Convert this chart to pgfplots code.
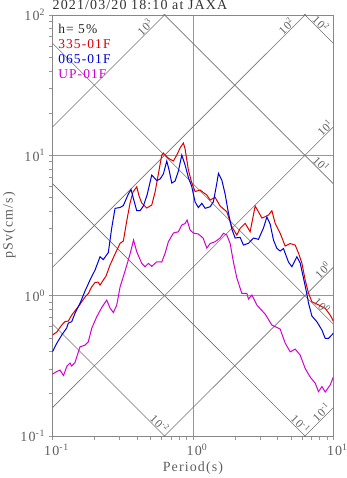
\documentclass[border=0pt]{standalone}
\usepackage{fontspec}
\setmainfont{Liberation Serif}[LetterSpace=8]
\usepackage{pgfplots}
\pgfplotsset{compat=1.18}
\definecolor{cred}{RGB}{220,0,0}
\definecolor{cblue}{RGB}{0,0,220}
\definecolor{cmag}{RGB}{210,0,210}
\definecolor{gridc}{RGB}{150,150,150}
\definecolor{diagc}{RGB}{115,115,115}
\definecolor{txtc}{RGB}{95,95,95}

\begin{document}
\begin{tikzpicture}
\useasboundingbox (0,0) rectangle (347pt,478pt);
\begin{axis}[
  name=ax,
  at={(52.5pt,42pt)}, anchor=south west,
  scale only axis, width=280.8pt, height=421pt,
  xmode=log, ymode=log,
  xmin=0.1, xmax=10, ymin=0.1, ymax=100,
  xtick={0.1,1,10}, ytick={0.1,1,10,100},
  xticklabels={10\textsuperscript{-1},10\textsuperscript{0},10\textsuperscript{1}},
  yticklabels={10\textsuperscript{-1},10\textsuperscript{0},10\textsuperscript{1},10\textsuperscript{2}},
  minor xtick={0.2,0.3,0.4,0.5,0.6,0.7,0.8,0.9,2,3,4,5,6,7,8,9},
  minor ytick={0.2,0.3,0.4,0.5,0.6,0.7,0.8,0.9,2,3,4,5,6,7,8,9,20,30,40,50,60,70,80,90},
  tick pos=left, tick align=outside,
  major tick length=4pt, minor tick length=4pt,
  every tick/.style={gridc, line width=0.6pt},
  xmajorgrids, ymajorgrids,
  major grid style={gridc, line width=0.8pt},
  axis line style={draw=gridc!90!black, line width=0.8pt},
  tick label style={font=\fontsize{14}{16}\selectfont, text=txtc},
  xticklabel style={xshift=4pt},
  xlabel={Period(s)}, ylabel={pSv(cm/s)},
  ylabel style={yshift=-2pt},
  label style={font=\fontsize{14}{16}\selectfont, text=txtc},
]
% constant acceleration lines (slope +1)
\addplot[diagc, line width=0.6pt, forget plot] coordinates {(0.1,15.92)(1,159.2)};
\addplot[diagc, line width=0.6pt, forget plot] coordinates {(0.1,1.592)(10,159.2)};
\addplot[diagc, line width=0.6pt, forget plot] coordinates {(0.1,0.1592)(10,15.92)};
\addplot[diagc, line width=0.6pt, forget plot] coordinates {(0.1,0.01592)(10,1.592)};
\addplot[diagc, line width=0.6pt, forget plot] coordinates {(1,0.01592)(10,0.1592)};
% constant displacement lines (slope -1)
\addplot[diagc, line width=0.6pt, forget plot] coordinates {(1,628.3)(10,62.83)};
\addplot[diagc, line width=0.6pt, forget plot] coordinates {(0.1,628.3)(10,6.283)};
\addplot[diagc, line width=0.6pt, forget plot] coordinates {(0.1,62.83)(10,0.6283)};
\addplot[diagc, line width=0.6pt, forget plot] coordinates {(0.1,6.283)(10,0.06283)};
\addplot[diagc, line width=0.6pt, forget plot] coordinates {(0.1,0.6283)(1,0.06283)};

% 335-01F
\addplot[cred, line width=1pt] coordinates {
(0.1,0.524)(0.1072,0.550)(0.1163,0.617)(0.1227,0.654)(0.1296,0.659)(0.1370,0.727)(0.1446,0.780)(0.1527,0.834)(0.1614,0.905)(0.1704,0.977)(0.1799,1.035)(0.1903,1.157)(0.2009,1.240)(0.2110,1.250)(0.2181,1.190)(0.2301,1.292)(0.2405,1.379)(0.2569,1.652)(0.2789,1.980)(0.3028,2.360)(0.3196,2.450)(0.3379,3.402)(0.3567,4.571)(0.3747,5.477)(0.3982,5.972)(0.4136,5.128)(0.4322,4.571)(0.4692,4.211)(0.5093,4.424)(0.5378,5.477)(0.5676,7.357)(0.6001,10.05)(0.6161,10.38)(0.6689,9.522)(0.7261,9.109)(0.7679,10.05)(0.8104,11.27)(0.8555,12.24)(0.8799,11.09)(0.9288,7.857)(0.982,6.347)(1.037,5.521)(1.125,5.658)(1.256,5.213)(1.326,4.801)(1.439,5.019)(1.563,4.352)(1.744,3.963)(1.894,3.098)(2.056,2.704)(2.170,3.018)(2.356,3.277)(2.557,2.854)(2.776,4.352)(2.930,3.963)(3.099,3.573)(3.271,3.651)(3.453,3.754)(3.651,4.029)(3.855,3.277)(4.184,2.780)(4.542,2.257)(4.930,2.351)(5.352,2.294)(5.649,2.012)(5.972,1.708)(6.305,1.292)(6.657,1.043)(7.039,0.905)(7.641,0.871)(8.757,0.812)(9.506,0.727)(10,0.659)};
% 065-01F
\addplot[cblue, line width=1pt] coordinates {
(0.1,0.398)(0.1072,0.457)(0.1163,0.524)(0.1262,0.588)(0.1296,0.638)(0.1370,0.652)(0.1446,0.748)(0.157,0.882)(0.1704,1.078)(0.1850,1.292)(0.2009,1.522)(0.2181,1.894)(0.2301,1.808)(0.2498,2.029)(0.2641,3.033)(0.2789,4.191)(0.3028,4.246)(0.3196,4.388)(0.3469,5.300)(0.3627,5.705)(0.3778,4.881)(0.3982,4.029)(0.4204,4.029)(0.4437,4.352)(0.4715,5.213)(0.5093,7.237)(0.5530,6.613)(0.5836,6.778)(0.6161,7.357)(0.6516,9.109)(0.6766,7.857)(0.7073,6.347)(0.7467,6.560)(0.7883,7.729)(0.8334,10.05)(0.8799,8.530)(0.9288,6.947)(0.982,5.972)(1.037,4.648)(1.094,4.246)(1.157,4.549)(1.222,4.191)(1.326,4.302)(1.400,4.671)(1.480,6.316)(1.520,7.442)(1.607,6.668)(1.696,5.300)(1.791,3.880)(1.894,2.984)(2.000,2.574)(2.170,2.603)(2.291,2.294)(2.487,2.360)(2.700,2.574)(2.930,2.520)(3.181,3.033)(3.364,3.634)(3.550,3.239)(3.749,2.491)(3.964,2.174)(4.184,2.079)(4.417,2.166)(4.794,1.736)(5.070,1.607)(5.503,1.894)(5.808,1.708)(6.131,1.335)(6.485,1.027)(6.657,0.886)(7.039,0.716)(7.641,0.652)(8.296,0.569)(8.757,0.496)(9.244,0.496)(10,0.539)};
% UP-01F
\addplot[cmag, line width=1pt] coordinates {
(0.1,0.276)(0.1072,0.288)(0.1131,0.295)(0.1198,0.270)(0.1268,0.315)(0.1332,0.331)(0.1370,0.315)(0.1446,0.334)(0.157,0.432)(0.1704,0.444)(0.1799,0.469)(0.1903,0.585)(0.2065,0.707)(0.2242,0.823)(0.2433,0.930)(0.2569,0.816)(0.2713,0.758)(0.2868,0.857)(0.3028,1.152)(0.3286,1.497)(0.3567,1.980)(0.3778,2.491)(0.3982,2.056)(0.4322,1.699)(0.4563,1.607)(0.4817,1.699)(0.5093,1.618)(0.5530,1.744)(0.6001,1.736)(0.6335,2.002)(0.6689,2.423)(0.7261,2.794)(0.7883,2.854)(0.8334,3.186)(0.8799,3.265)(0.9092,3.458)(0.955,2.935)(1.008,2.794)(1.094,2.749)(1.182,2.574)(1.256,2.184)(1.326,2.351)(1.439,2.423)(1.563,2.574)(1.650,2.780)(1.744,2.704)(1.841,2.360)(1.944,1.736)(2.056,1.335)(2.232,1.038)(2.423,1.038)(2.487,0.946)(2.630,1.010)(2.854,0.857)(3.271,0.739)(3.651,0.617)(3.919,0.597)(4.184,0.578)(4.542,0.459)(4.930,0.398)(5.352,0.416)(5.808,0.377)(6.305,0.303)(6.845,0.263)(7.431,0.238)(7.844,0.207)(8.296,0.225)(8.757,0.206)(9.506,0.231)(10,0.263)};

% labels of the diagonal lines
\begin{scope}[every node/.style={font=\fontsize{11.5}{12}\selectfont, text=txtc, anchor=south, inner sep=0.5pt}]
\node[rotate=45] at (axis cs:0.485,77.2) {10\textsuperscript{3}};
\node[rotate=45] at (axis cs:4.913,78.2) {10\textsuperscript{2}};
\node[rotate=45] at (axis cs:9.28,14.77) {10\textsuperscript{1}};
\node[rotate=45] at (axis cs:8.93,1.421) {10\textsuperscript{0}};
\node[rotate=45] at (axis cs:8.737,0.1391) {10\textsuperscript{-1}};
\node[rotate=-45] at (axis cs:7.666,81.96) {10\textsuperscript{2}};
\node[rotate=-45] at (axis cs:7.71,8.149) {10\textsuperscript{1}};
\node[rotate=-45] at (axis cs:7.806,0.805) {10\textsuperscript{0}};
\node[rotate=-45] at (axis cs:5.482,0.1146) {10\textsuperscript{-1}};
\node[rotate=-45] at (axis cs:0.5467,0.1149) {10\textsuperscript{-2}};
\end{scope}

% damping and station names
\begin{scope}[every node/.style={font=\fontsize{13.5}{15}\selectfont, anchor=west, inner sep=0pt}]
\node[text=black!85] at (rel axis cs:0.02,0.966) {h= 5\%};
\node[text=cred] at (rel axis cs:0.02,0.931) {335-01F};
\node[text=cblue] at (rel axis cs:0.02,0.895) {065-01F};
\node[text=cmag] at (rel axis cs:0.02,0.860) {UP-01F};
\end{scope}
\end{axis}
\node[anchor=base west, inner sep=0pt, font=\fontsize{14}{16}\selectfont, text=black!80] at ([yshift=5pt]ax.north west) {2021/03/20 18:10 at JAXA};
\end{tikzpicture}
\end{document}
